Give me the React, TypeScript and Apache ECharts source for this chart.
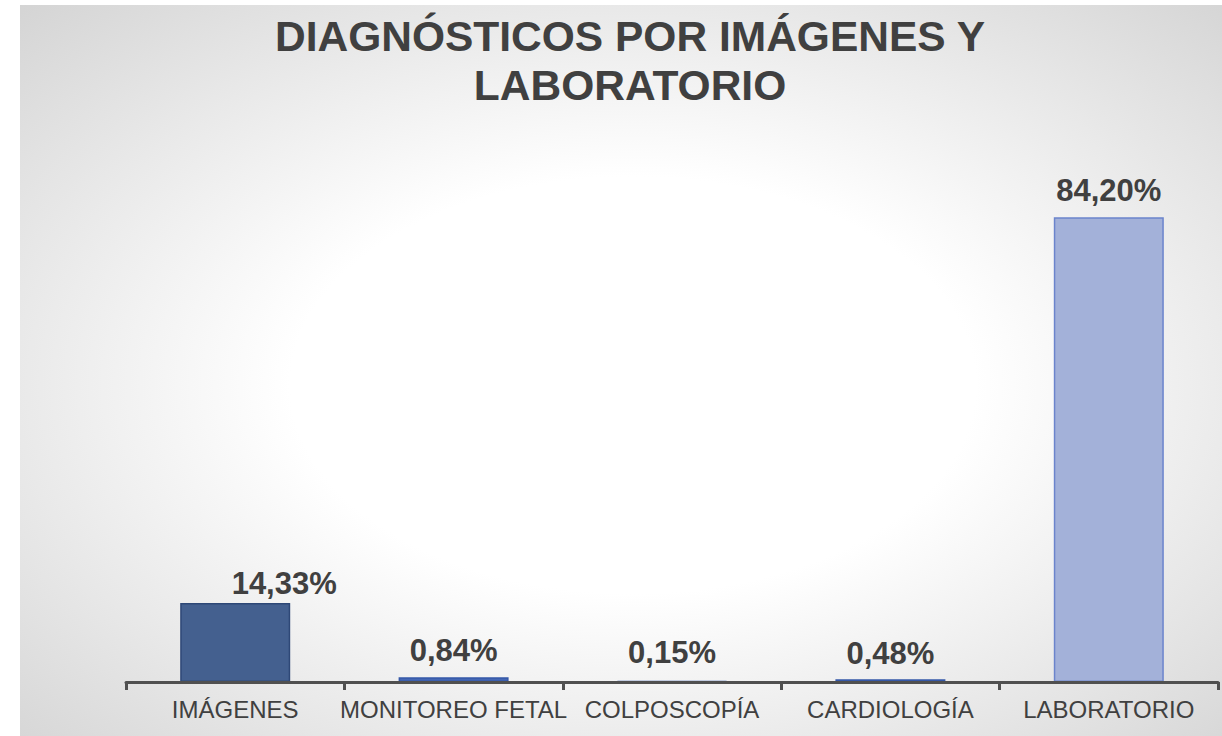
import React, { useEffect, useRef } from "react";
import * as echarts from "echarts";

const TITLE = "DIAGNÓSTICOS POR IMÁGENES Y\nLABORATORIO";
const CATEGORIES = ["IMÁGENES", "MONITOREO FETAL", "COLPOSCOPÍA", "CARDIOLOGÍA", "LABORATORIO"];
const VALUES = [14.33, 0.84, 0.15, 0.48, 84.2];
const VALUE_LABELS = ["14,33%", "0,84%", "0,15%", "0,48%", "84,20%"];
const BAR_FILLS = ["#44608f", "#4467b4", "#4467b4", "#4467b4", "#a3b1d9"];
const BAR_BORDERS = ["#2e4877", "#3558a8", "#3558a8", "#3558a8", "#6b84cc"];
const LABEL_OFFSETS = [[49, 7], [0, 0], [0, -2], [0, 1], [0, 0]];

export default function App() {
  const ref = useRef<HTMLDivElement>(null);
  useEffect(() => {
    if (!ref.current) return;
    const chart = echarts.init(ref.current, null, { renderer: "svg" });
    const bg = new echarts.graphic.RadialGradient(0.51, 0.52, 0.95, [
      { offset: 0, color: "#ffffff" },
      { offset: 0.3, color: "#ffffff" },
      { offset: 1, color: "#bfbfbf" },
    ]);
    chart.setOption({
      animation: false,
      backgroundColor: bg,
      graphic: [
        {
          type: "text",
          x: 610,
          y: 7,
          style: {
            text: TITLE,
            textAlign: "center",
            textVerticalAlign: "top",
            fontFamily: "Liberation Sans, Arial, sans-serif",
            fontWeight: "bold",
            fontSize: 42.5,
            lineHeight: 49,
            fill: "#404040",
          },
        },
      ],
      grid: { left: 106, right: 4, top: 125, bottom: 54, containLabel: false },
      xAxis: {
        type: "category",
        z: 5,
        data: CATEGORIES,
        axisLine: { lineStyle: { color: "#505050", width: 3 } },
        axisTick: { show: true, length: 8, lineStyle: { color: "#505050", width: 3 }, interval: 0 },
        axisLabel: {
          interval: 0,
          margin: 15,
          color: "#404040",
          fontSize: 24,
          fontFamily: "Liberation Sans, Arial, sans-serif",
        },
      },
      yAxis: {
        type: "value",
        min: 0,
        max: 100,
        show: false,
        splitLine: { show: false },
      },
      series: [
        {
          type: "bar",
          barWidth: 110,
          data: VALUES.map((v, i) => ({
            value: v,
            itemStyle: { color: BAR_FILLS[i], borderColor: BAR_BORDERS[i], borderWidth: 1.5 },
            label: {
              show: true,
              position: "top",
              distance: 11,
              offset: LABEL_OFFSETS[i],
              formatter: VALUE_LABELS[i],
              color: "#404040",
              fontSize: 31,
              fontWeight: "bold",
              fontFamily: "Liberation Sans, Arial, sans-serif",
            },
          })),
        },
      ],
    });
    return () => chart.dispose();
  }, []);
  return (
    <div style={{ position: "fixed", left: 0, top: 0, width: 1222, height: 736, background: "#ffffff" }}>
      <div ref={ref} style={{ position: "absolute", left: 20, top: 5, width: 1202, height: 731 }} />
    </div>
  );
}
